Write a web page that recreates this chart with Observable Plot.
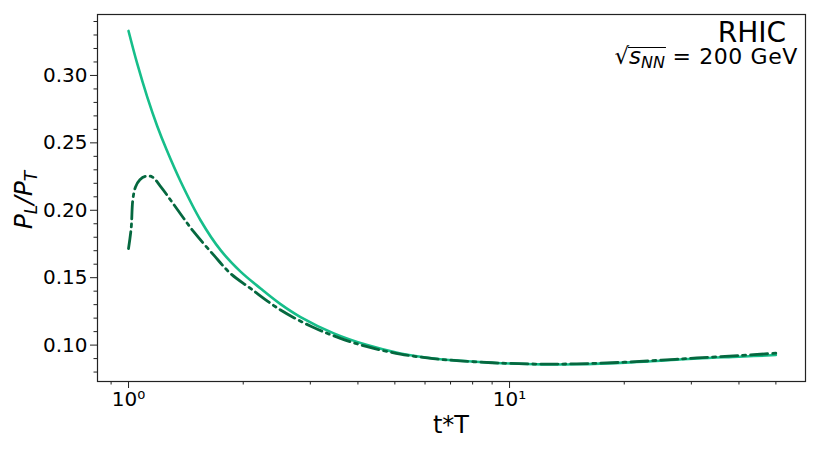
<!DOCTYPE html>
<html><head><meta charset="utf-8">
<script src="https://cdn.jsdelivr.net/npm/d3@7"></script>
<script src="https://cdn.jsdelivr.net/npm/@observablehq/plot@0.6"></script>
<style>body{margin:0;background:#fff}svg{display:block}</style>
</head><body><div id="chart"></div>
<script>
// Solid curve (light green)
const solidT = [1, 1.054, 1.12, 1.189, 1.258, 1.369, 1.545, 1.744, 1.968, 2.221, 2.5, 2.828, 3.458, 4.232, 5.174, 6.328, 7.435, 9, 10, 12.06, 15, 20.78, 25, 31.09, 40, 50];
const solidV = [0.333, 0.3087, 0.2839, 0.2625, 0.2450, 0.2215, 0.1926, 0.1704, 0.1545, 0.1420, 0.1306, 0.1208, 0.1087, 0.1000, 0.0938, 0.0901, 0.0884, 0.0869, 0.0863, 0.0857, 0.0858, 0.0872, 0.0884, 0.0901, 0.0914, 0.0926];
// Dash-dot curve (dark green)
const dashT = [1, 1.0165, 1.026, 1.043, 1.071, 1.108, 1.154, 1.213, 1.289, 1.383, 1.484, 1.674, 1.852, 2.09, 2.5, 3.03, 3.6, 4.23, 5.17, 6.3, 7.4, 9, 10, 12, 15, 20, 25, 31, 40, 50];
const dashV = [0.1716, 0.1872, 0.2074, 0.2173, 0.2227, 0.2252, 0.2247, 0.2178, 0.2076, 0.1956, 0.1839, 0.1667, 0.1531, 0.1420, 0.1262, 0.1136, 0.1050, 0.0988, 0.0933, 0.0900, 0.0883, 0.0869, 0.0864, 0.0859, 0.0861, 0.0873, 0.0888, 0.0905, 0.0922, 0.0940];

const xTicks = [1, 10];
const xTickLabels = ["10\u2070", "10\u00B9"];
const xMinorTicks = [0.9, 2, 3, 4, 5, 6, 7, 8, 9, 20, 30, 40, 50];
const yTicks = [0.10, 0.15, 0.20, 0.25, 0.30];
const yMinorTicks = [0.08, 0.09, 0.11, 0.12, 0.13, 0.14, 0.16, 0.17, 0.18, 0.19, 0.21, 0.22, 0.23, 0.24, 0.26, 0.27, 0.28, 0.29, 0.31, 0.32, 0.33, 0.34];
const xLabel = "t*T";
const titleText = "RHIC";
const energyText = " = 200 GeV";

const solid = solidT.map((t, i) => ({t, v: solidV[i]}));
const dashed = dashT.map((t, i) => ({t, v: dashV[i]}));

const FONT = "DejaVu Sans, sans-serif";
const plot = Plot.plot({
  width: 830, height: 453,
  marginLeft: 97, marginRight: 25, marginTop: 14, marginBottom: 72,
  style: {fontFamily: FONT, background: "#fff", color: "#000"},
  x: {type: "log", domain: [0.829, 59.8]},
  y: {domain: [0.0730, 0.3452]},
  marks: [
    Plot.axisX(xMinorTicks, {tickSize: 3.5, text: null, label: null, stroke: "#222"}),
    Plot.axisX(xTicks, {tickSize: 7, tickPadding: 3, fontSize: 20, label: null, stroke: "#222",
      tickFormat: d => xTickLabels[xTicks.indexOf(d)]}),
    Plot.axisY(yMinorTicks, {tickSize: 3.5, text: null, label: null, stroke: "#222"}),
    Plot.axisY(yTicks, {tickSize: 7, tickPadding: 3, fontSize: 20, label: null, stroke: "#222",
      tickFormat: d3.format(".2f")}),
    Plot.line(solid, {x: "t", y: "v", stroke: "#16be8a", strokeWidth: 2.6, curve: "catmull-rom"}),
    Plot.line(dashed, {x: "t", y: "v", stroke: "#05683f", strokeWidth: 2.8, curve: "catmull-rom",
      strokeDasharray: "17,5,3,5"}),
    Plot.frame({stroke: "#222", strokeWidth: 1.2})
  ]
});
document.getElementById("chart").append(plot);
const svg = d3.select(plot);

// Title
svg.append("text").attr("x", 786).attr("y", 42).attr("text-anchor", "end")
  .attr("font-family", FONT).attr("font-size", 28).text(titleText);

// sqrt(s_NN) = 200 GeV
const en = svg.append("text").attr("x", 798).attr("y", 64).attr("text-anchor", "end")
  .attr("font-family", FONT).attr("font-size", 22);
en.append("tspan").attr("font-size", 23).text("\u221A");
en.append("tspan").attr("font-style", "italic").attr("font-size", 23).text("s");
en.append("tspan").attr("font-style", "italic").attr("font-size", 16).attr("dy", 4).text("NN");
en.append("tspan").attr("dy", -4).attr("letter-spacing", 0.6).text(energyText);
const enNode = en.node();
const x0 = enNode.getEndPositionOfChar(0).x;
const x1 = enNode.getEndPositionOfChar(3).x;
svg.append("line").attr("x1", x0 - 1).attr("x2", x1 + 1).attr("y1", 47.5).attr("y2", 47.5)
  .attr("stroke", "#000").attr("stroke-width", 1.2);

// X label
svg.append("text").attr("x", 451).attr("y", 433).attr("text-anchor", "middle")
  .attr("font-family", FONT).attr("font-size", 24).text(xLabel);

// Y label P_L/P_T
const yl = svg.append("text").attr("transform", "translate(32,200) rotate(-90)")
  .attr("text-anchor", "middle").attr("font-family", FONT).attr("font-size", 25);
yl.append("tspan").attr("font-style", "italic").text("P");
yl.append("tspan").attr("font-style", "italic").attr("font-size", 17).attr("dy", 5).text("L");
yl.append("tspan").attr("font-style", "italic").attr("dy", -5).text("/P");
yl.append("tspan").attr("font-style", "italic").attr("font-size", 17).attr("dy", 5).text("T");
</script>
</body></html>
